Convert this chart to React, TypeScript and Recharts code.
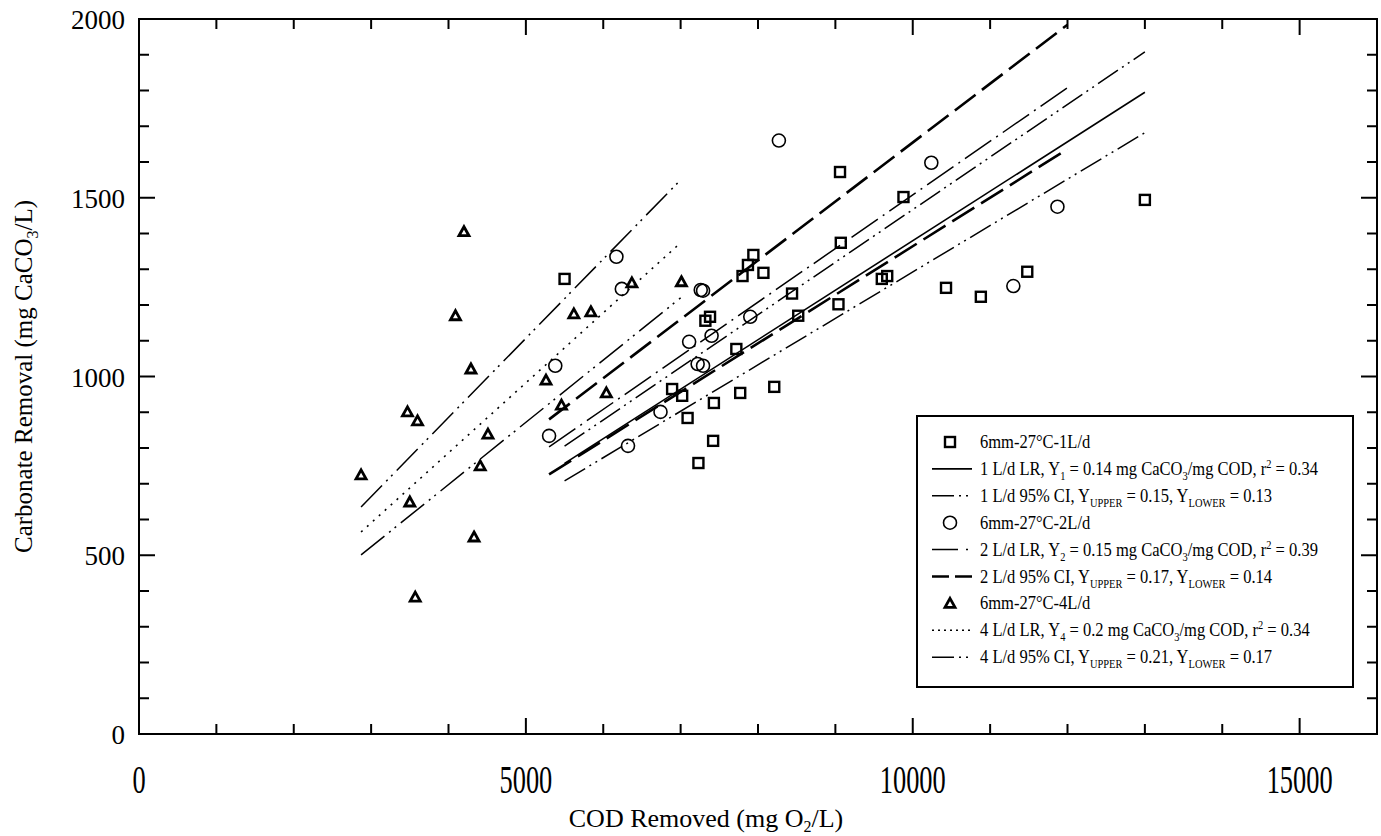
import React from "react";
import { ScatterChart, Scatter, XAxis, YAxis, ReferenceArea } from "recharts";

// page has an 8px body margin by default; the figure is drawn edge to edge
if (typeof document !== "undefined") document.body.style.margin = "0";

// axis ticks
const xTicks = [0, 1000, 2000, 3000, 4000, 5000, 6000, 7000, 8000, 9000, 10000, 11000, 12000, 13000, 14000, 15000, 16000];
const xTickLabels = [0, 5000, 10000, 15000];
const yTicks = [0, 100, 200, 300, 400, 500, 600, 700, 800, 900, 1000, 1100, 1200, 1300, 1400, 1500, 1600, 1700, 1800, 1900, 2000];
const yTickLabels = [0, 500, 1000, 1500, 2000];

// 6mm-27°C-1L/d
const sq1X = [5500, 7090, 7230, 7420, 7430, 7020, 6890, 7770, 8210, 7720, 7380, 7320, 8520, 8440, 9040, 9070, 7800, 7870, 7940, 8070, 9060, 9880, 9600, 9670, 10430, 10880, 11480, 13000];
const sq1Y = [1273, 884, 758, 820, 926, 946, 965, 954, 971, 1077, 1167, 1156, 1170, 1232, 1202, 1374, 1281, 1312, 1340, 1290, 1572, 1502, 1273, 1281, 1248, 1223, 1293, 1494];

// 6mm-27°C-2L/d
const ci2X = [5300, 5380, 6170, 6240, 6320, 6740, 7110, 7220, 7290, 7260, 7290, 7400, 7900, 8270, 10240, 11300, 11870];
const ci2Y = [834, 1030, 1335, 1245, 806, 901, 1097, 1035, 1030, 1242, 1240, 1114, 1167, 1660, 1598, 1253, 1475];

// 6mm-27°C-4L/d
const tr4X = [2870, 3470, 3500, 3570, 3600, 4090, 4200, 4290, 4330, 4410, 4510, 5260, 5460, 5620, 5840, 6040, 6370, 7010];
const tr4Y = [725, 901, 649, 383, 876, 1170, 1405, 1021, 551, 750, 839, 990, 920, 1175, 1181, 954, 1262, 1265];

// regression lines and 95% CI (end points)
const lr1X = [5500, 13000];
const lr1Y = [757, 1795];
const up1Y = [805, 1908];
const lo1Y = [708, 1682];

const lr2X = [5300, 12000];
const lr2Y = [803, 1808];
const up2Y = [880, 1984];
const lo2Y = [726, 1636];

const lr4X = [2870, 7000];
const lr4Y = [565, 1374];
const up4Y = [635, 1550];
const lo4Y = [501, 1220];

const zip = (xs: number[], ys: number[]) => xs.map((x, i) => ({ x, y: ys[i] }));

const PLOT_W = 1238;
const PLOT_H = 715;
const FONT = "'Liberation Serif', 'Times New Roman', serif";

const STYLE: Record<string, { dash?: string; w: number; legendDash?: string }> = {
  lr1: { dash: undefined, w: 1.6 },
  ci1: { dash: "24 5 2 5 2 5", w: 1.5, legendDash: "22 5 2 5 2 5" },
  lr2: { dash: "32 6 2 6", w: 1.5, legendDash: "26 8 2 10" },
  ci2: { dash: "26 8", w: 2.6, legendDash: "17 6" },
  lr4: { dash: "2 6", w: 1.6, legendDash: "2 4" },
  ci4: { dash: "30 6 2 5 2 6", w: 1.5, legendDash: "22 5 2 5 2 5" },
};

const Square = (p: any) => (
  <rect x={p.cx - 5} y={p.cy - 5} width={10} height={10} fill="none" stroke="#000" strokeWidth={2.4} />
);
const Circle = (p: any) => <circle cx={p.cx} cy={p.cy} r={6.5} fill="none" stroke="#000" strokeWidth={1.6} />;
const Triangle = (p: any) => (
  <path
    d={`M${p.cx},${p.cy - 5} L${p.cx + 5},${p.cy + 4} L${p.cx - 5},${p.cy + 4} Z`}
    fill="none"
    stroke="#000"
    strokeWidth={2.8}
  />
);
const NoShape = () => <g />;

const XTick = (props: any) => {
  const { x, y, payload } = props;
  const v = payload.value;
  const major = xTickLabels.includes(v);
  const len = major ? 16 : 10;
  return (
    <g>
      <line x1={x} y1={y} x2={x} y2={y - len} stroke="#000" strokeWidth={2} />
      <line x1={x} y1={y - PLOT_H} x2={x} y2={y - PLOT_H + len} stroke="#000" strokeWidth={2} />
      {major && (
        <text
          transform={`translate(${x},${y + 59}) scale(0.88,1.3)`}
          textAnchor="middle"
          fontSize={30}
          fontFamily={FONT}
          fill="#000"
        >
          {v}
        </text>
      )}
    </g>
  );
};

const YTick = (props: any) => {
  const { x, y, payload } = props;
  const v = payload.value;
  const major = yTickLabels.includes(v);
  const len = major ? 16 : 10;
  return (
    <g>
      <line x1={x} y1={y} x2={x + len} y2={y} stroke="#000" strokeWidth={2} />
      <line x1={x + PLOT_W} y1={y} x2={x + PLOT_W - len} y2={y} stroke="#000" strokeWidth={2} />
      {major && (
        <text x={x - 14} y={y + 10} textAnchor="end" fontSize={27} fontFamily={FONT} fill="#000">
          {v}
        </text>
      )}
    </g>
  );
};

const XTitle = (props: any) => {
  const vb = props.viewBox;
  return (
    <text x={vb.x + 567} y={vb.y + 93} textAnchor="middle" fontSize={26} fontFamily={FONT} fill="#000">
      COD Removed (mg O
      <tspan dy={5} fontSize={16}>2</tspan>
      <tspan dy={-5}>/L)</tspan>
    </text>
  );
};

const YTitle = (props: any) => {
  const vb = props.viewBox;
  const cx = vb.x + 32;
  const cy = vb.y + vb.height / 2;
  return (
    <text
      transform={`translate(${cx},${cy}) rotate(-90)`}
      textAnchor="middle"
      fontSize={25}
      fontFamily={FONT}
      fill="#000"
    >
      Carbonate Removal (mg CaCO
      <tspan dy={6} fontSize={16}>3</tspan>
      <tspan dy={-6}>/L)</tspan>
    </text>
  );
};

type Seg = { t: string; sub?: boolean; sup?: boolean };
const legendRows: { kind: string; parts: Seg[] }[] = [
  { kind: "square", parts: [{ t: "6mm-27°C-1L/d" }] },
  {
    kind: "lr1",
    parts: [{ t: "1 L/d LR, Y" }, { t: "1", sub: true }, { t: " = 0.14 mg CaCO" }, { t: "3", sub: true }, { t: "/mg COD, r" }, { t: "2", sup: true }, { t: " = 0.34" }],
  },
  {
    kind: "ci1",
    parts: [{ t: "1 L/d 95% CI, Y" }, { t: "UPPER", sub: true }, { t: " = 0.15, Y" }, { t: "LOWER", sub: true }, { t: " = 0.13" }],
  },
  { kind: "circle", parts: [{ t: "6mm-27°C-2L/d" }] },
  {
    kind: "lr2",
    parts: [{ t: "2 L/d LR, Y" }, { t: "2", sub: true }, { t: " = 0.15 mg CaCO" }, { t: "3", sub: true }, { t: "/mg COD, r" }, { t: "2", sup: true }, { t: " = 0.39" }],
  },
  {
    kind: "ci2",
    parts: [{ t: "2 L/d 95% CI, Y" }, { t: "UPPER", sub: true }, { t: " = 0.17, Y" }, { t: "LOWER", sub: true }, { t: " = 0.14" }],
  },
  { kind: "triangle", parts: [{ t: "6mm-27°C-4L/d" }] },
  {
    kind: "lr4",
    parts: [{ t: "4 L/d LR, Y" }, { t: "4", sub: true }, { t: " = 0.2 mg CaCO" }, { t: "3", sub: true }, { t: "/mg COD, r" }, { t: "2", sup: true }, { t: " = 0.34" }],
  },
  {
    kind: "ci4",
    parts: [{ t: "4 L/d 95% CI, Y" }, { t: "UPPER", sub: true }, { t: " = 0.21, Y" }, { t: "LOWER", sub: true }, { t: " = 0.17" }],
  },
];

const renderParts = (parts: Seg[]) => {
  let shift = 0;
  return parts.map((p, i) => {
    const target = p.sub ? 5 : p.sup ? -7 : 0;
    const dy = target - shift;
    shift = target;
    return (
      <tspan key={i} dy={dy} fontSize={p.sub || p.sup ? 12 : 19}>
        {p.t}
      </tspan>
    );
  });
};

const LegendBox = () => {
  const w = 438;
  const h = 273;
  return (
    <svg width={w} height={h} style={{ position: "absolute", left: 916, top: 415 }}>
      <rect x={1} y={1} width={w - 2} height={h - 2} fill="#fff" stroke="#000" strokeWidth={2} />
      {legendRows.map((r, i) => {
        const cy = 27 + i * 26.9;
        let sym: React.ReactNode = null;
        if (r.kind === "square") sym = <Square cx={34} cy={cy} />;
        else if (r.kind === "circle") sym = <Circle cx={34} cy={cy} />;
        else if (r.kind === "triangle") sym = <Triangle cx={34} cy={cy} />;
        else {
          const s = STYLE[r.kind];
          sym = <line x1={16} y1={cy} x2={56} y2={cy} stroke="#000" strokeWidth={s.w} strokeDasharray={s.legendDash} />;
        }
        return (
          <g key={i}>
            {sym}
            <text
              transform={`translate(64,${cy + 6}) scale(0.87,1)`}
              fontFamily={FONT}
              fontSize={19}
              fill="#000"
            >
              {renderParts(r.parts)}
            </text>
          </g>
        );
      })}
    </svg>
  );
};

const lineSeries = [
  { key: "lo4", data: zip(lr4X, lo4Y), s: STYLE.ci4 },
  { key: "up4", data: zip(lr4X, up4Y), s: STYLE.ci4 },
  { key: "lr4", data: zip(lr4X, lr4Y), s: STYLE.lr4 },
  { key: "lo2", data: zip(lr2X, lo2Y), s: STYLE.ci2 },
  { key: "up2", data: zip(lr2X, up2Y), s: STYLE.ci2 },
  { key: "lr2", data: zip(lr2X, lr2Y), s: STYLE.lr2 },
  { key: "lo1", data: zip(lr1X, lo1Y), s: STYLE.ci1 },
  { key: "up1", data: zip(lr1X, up1Y), s: STYLE.ci1 },
  { key: "lr1", data: zip(lr1X, lr1Y), s: STYLE.lr1 },
];

export default function App() {
  return (
    <div style={{ position: "relative", width: 1381, height: 836, overflow: "hidden", background: "#fff" }}>
      <ScatterChart width={1381} height={836} margin={{ top: 19, right: 4, bottom: 0, left: 0 }}>
        <XAxis
          type="number"
          dataKey="x"
          domain={[0, 16000]}
          ticks={xTicks}
          interval={0}
          tickSize={0}
          tickMargin={0}
          tickLine={false}
          tick={<XTick />}
          axisLine={{ stroke: "#000", strokeWidth: 2 }}
          height={102}
          label={<XTitle />}
        />
        <YAxis
          type="number"
          dataKey="y"
          domain={[0, 2000]}
          ticks={yTicks}
          interval={0}
          tickSize={0}
          tickMargin={0}
          tickLine={false}
          tick={<YTick />}
          axisLine={{ stroke: "#000", strokeWidth: 2 }}
          width={139}
          label={<YTitle />}
        />
        <ReferenceArea
          x1={0}
          x2={16000}
          y1={0}
          y2={2000}
          fill="none"
          stroke="#000"
          strokeWidth={2}
          ifOverflow="visible"
        />
        {lineSeries.map((l) => (
          <Scatter
            key={l.key}
            data={l.data}
            line={{ stroke: "#000", strokeWidth: l.s.w, strokeDasharray: l.s.dash }}
            shape={NoShape}
            isAnimationActive={false}
          />
        ))}
        <Scatter data={zip(sq1X, sq1Y)} shape={Square} isAnimationActive={false} />
        <Scatter data={zip(ci2X, ci2Y)} shape={Circle} isAnimationActive={false} />
        <Scatter data={zip(tr4X, tr4Y)} shape={Triangle} isAnimationActive={false} />
      </ScatterChart>
      <LegendBox />
    </div>
  );
}
